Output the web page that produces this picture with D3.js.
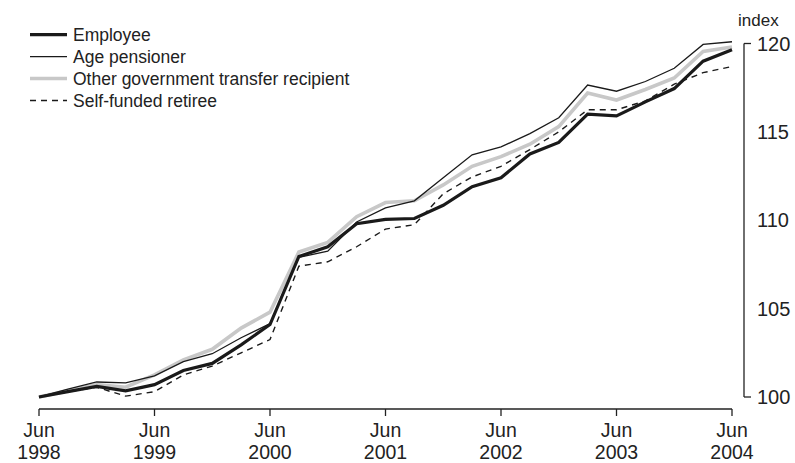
<!DOCTYPE html>
<html>
<head>
<meta charset="utf-8">
<script src="https://cdn.jsdelivr.net/npm/d3@7"></script>
<style>
  body { margin: 0; background: #fff; }
  svg { display: block; font-family: "Liberation Sans", Arial, sans-serif; }
</style>
</head>
<body>
<svg id="chart" width="795" height="463"></svg>
<script>
// quarterly, Jun 1998 .. Jun 2004
var quarters = d3.range(25);
var yearTicks = [0, 4, 8, 12, 16, 20, 24];
var yearLabels = ["1998", "1999", "2000", "2001", "2002", "2003", "2004"];
var yTicks = [100, 105, 110, 115, 120];

var employee = [100, 100.3, 100.6, 100.35, 100.7, 101.5, 101.9, 102.95, 104.1,
    107.95, 108.5, 109.8, 110.05, 110.1, 110.85, 111.9, 112.4, 113.75, 114.4,
    116.0, 115.9, 116.7, 117.45, 119.0, 119.65];
var agePensioner = [100, 100.45, 100.85, 100.8, 101.2, 102.0, 102.45, 103.35, 104.15,
    107.9, 108.25, 109.9, 110.7, 111.1, 112.4, 113.7, 114.15, 114.9, 115.8,
    117.65, 117.3, 117.85, 118.6, 119.95, 120.1];
var otherTransfer = [100, 100.35, 100.7, 100.55, 101.25, 102.1, 102.7, 103.9, 104.8,
    108.2, 108.75, 110.2, 111.0, 111.1, 112.0, 113.05, 113.6, 114.3, 115.3,
    117.2, 116.8, 117.4, 118.05, 119.55, 119.8];
var selfFunded = [100, 100.3, 100.55, 100.05, 100.3, 101.25, 101.75, 102.5, 103.25,
    107.4, 107.65, 108.5, 109.5, 109.75, 111.5, 112.45, 113.05, 114.0, 115.0,
    116.25, 116.25, 116.75, 117.7, 118.35, 118.7];

var series = [
    {name: "Employee", values: employee, color: "#1a1a1a", width: 3.2, dash: null},
    {name: "Age pensioner", values: agePensioner, color: "#1a1a1a", width: 1.3, dash: null},
    {name: "Other government transfer recipient", values: otherTransfer, color: "#c8c8c8", width: 3.6, dash: null},
    {name: "Self-funded retiree", values: selfFunded, color: "#1a1a1a", width: 1.4, dash: "6,5"}
];
var drawOrder = [2, 3, 1, 0];

var svg = d3.select("#chart");

var x = d3.scaleLinear().domain([0, 24]).range([39, 732]);
var y = d3.scaleLinear().domain([100, 120]).range([397, 43.5]);

// x axis
var xAxis = svg.append("g").attr("transform", "translate(0,409)");
xAxis.append("line")
    .attr("x1", x(0)).attr("x2", x(24))
    .attr("stroke", "#222").attr("stroke-width", 1.3);
var xt = xAxis.selectAll(".xt").data(yearTicks).enter().append("g")
    .attr("transform", function (d) { return "translate(" + x(d) + ",0)"; });
xt.append("line").attr("y1", 0).attr("y2", 7).attr("stroke", "#222").attr("stroke-width", 1.3);
xt.append("text").attr("y", 28).attr("text-anchor", "middle")
    .attr("font-size", 19.5).attr("fill", "#222").text("Jun");
xt.append("text").attr("y", 50).attr("text-anchor", "middle")
    .attr("font-size", 19.5).attr("fill", "#222")
    .text(function (d, i) { return yearLabels[i]; });

// y axis on the right
var yAxis = svg.append("g").attr("transform", "translate(744,0)");
yAxis.append("line")
    .attr("y1", y(120)).attr("y2", y(100))
    .attr("stroke", "#222").attr("stroke-width", 1.3);
yAxis.selectAll(".yt").data([100, 120]).enter().append("line")
    .attr("x1", 0).attr("x2", 7)
    .attr("y1", function (d) { return y(d); }).attr("y2", function (d) { return y(d); })
    .attr("stroke", "#222").attr("stroke-width", 1.3);
yAxis.selectAll(".yl").data(yTicks).enter().append("text")
    .attr("x", 13).attr("y", function (d) { return y(d) + 7; })
    .attr("font-size", 20).attr("fill", "#222")
    .text(function (d) { return d; });
svg.append("text").attr("x", 738).attr("y", 26)
    .attr("font-size", 17).attr("fill", "#222").text("index");

// lines
var line = d3.line()
    .x(function (d, i) { return x(quarters[i]); })
    .y(function (d) { return y(d); });

svg.append("g").selectAll("path").data(drawOrder.map(function (i) { return series[i]; }))
    .enter().append("path")
    .attr("d", function (d) { return line(d.values); })
    .attr("fill", "none")
    .attr("stroke", function (d) { return d.color; })
    .attr("stroke-width", function (d) { return d.width; })
    .attr("stroke-dasharray", function (d) { return d.dash; })
    .attr("stroke-linejoin", "miter");

// legend
var legendY = [34.7, 56.7, 78.5, 100.5];
var legend = svg.append("g").selectAll("g").data(series).enter().append("g")
    .attr("transform", function (d, i) { return "translate(30," + legendY[i] + ")"; });
legend.append("line")
    .attr("x1", 0).attr("x2", 37)
    .attr("stroke", function (d) { return d.color; })
    .attr("stroke-width", function (d) { return d.width; })
    .attr("stroke-dasharray", function (d) { return d.dash; });
legend.append("text")
    .attr("x", 43).attr("y", 6)
    .attr("font-size", 17.5).attr("fill", "#222")
    .text(function (d) { return d.name; });
</script>
</body>
</html>
